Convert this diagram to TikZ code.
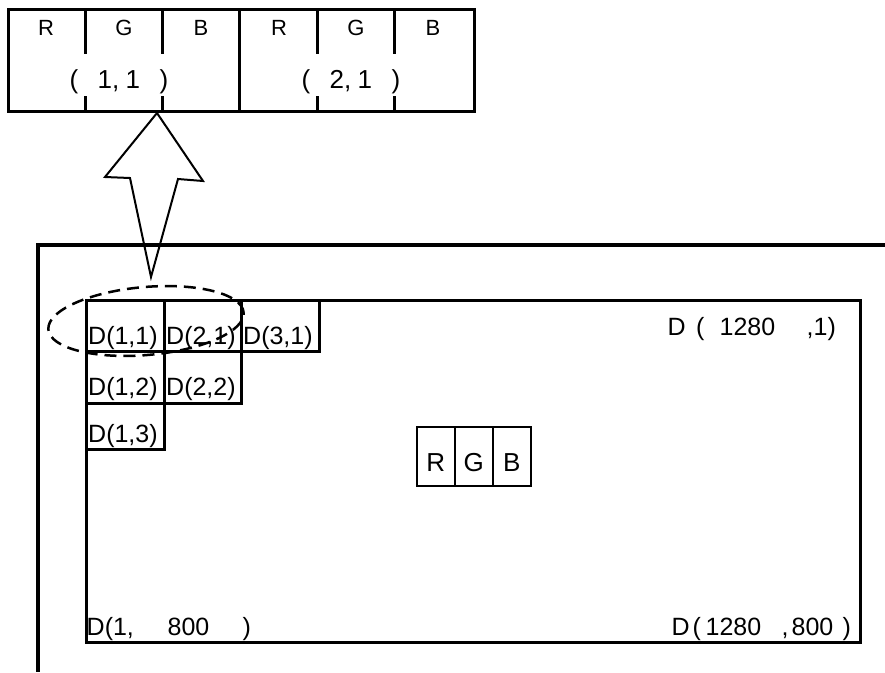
\documentclass[tikz,border=0pt]{standalone}
\usepackage{fontspec}
\setmainfont{Liberation Sans}
\usetikzlibrary{calc,shapes.geometric}
\newcommand\pieceat[2]{\makebox[0pt][l]{\hspace{#1}#2}}
\begin{document}
\begin{tikzpicture}[x=1pt,y=-1pt,
  box/.style={draw,inner sep=0pt,anchor=north west},
  cell/.style={box,line width=2.5pt},
  lab/.style={font=\fontsize{25}{25}\selectfont,inner sep=0pt,anchor=base west},
  toplab/.style={font=\fontsize{22}{22}\selectfont,inner sep=0pt,anchor=base},
  numlab/.style={font=\fontsize{26}{26}\selectfont,inner sep=0pt,anchor=base west},
  rgblab/.style={font=\fontsize{26}{26}\selectfont,inner sep=0pt,anchor=base},
]
\useasboundingbox (0,0) rectangle (885,672);

% ---- top pixel strip ----
\node[box,line width=3pt,minimum width=466pt,minimum height=102pt] (px) at (7,8) {};
\draw[line width=3pt] (239,8) -- (239,110);
\foreach \x in {85,162,317,394}{
  \draw[line width=3pt] (\x,8) -- (\x,54);
  \draw[line width=3pt] (\x,96) -- (\x,110);
}
\node[toplab] (r1) at (46,35) {R};
\node[toplab] (g1) at (124,35) {G};
\node[toplab] (b1) at (201,35) {B};
\node[toplab] (r2) at (279,35) {R};
\node[toplab] (g2) at (356,35) {G};
\node[toplab] (b2) at (433,35) {B};
\node[numlab] (p11) at (69,88)
  {\pieceat{0pt}{(}\pieceat{28pt}{1,}\pieceat{56pt}{1}\pieceat{90pt}{)}};
\node[numlab] (p21) at (301,88)
  {\pieceat{0pt}{(}\pieceat{28pt}{2,}\pieceat{56pt}{1}\pieceat{90pt}{)}};

% ---- outer frame (partially visible) ----
\coordinate (oTR) at (885,245);
\coordinate (oTL) at (38,245);
\coordinate (oBL) at (38,672);
\draw[line width=3.5pt] (oTR) -- (oTL) -- (oBL);

% ---- screen ----
\node[box,line width=2.5pt,minimum width=774pt,minimum height=342pt] (screen) at (85,299) {};

% ---- pixel cells ----
\node[cell,minimum width=78pt,minimum height=51pt] (c11) at (85,299) {};
\node[cell,minimum width=77pt,minimum height=51pt] (c21) at (163,299) {};
\node[cell,minimum width=78pt,minimum height=51pt] (c31) at (240,299) {};
\node[cell,minimum width=78pt,minimum height=52pt] (c12) at (85,350) {};
\node[cell,minimum width=77pt,minimum height=52pt] (c22) at (163,350) {};
\node[cell,minimum width=78pt,minimum height=46pt] (c13) at (85,402) {};

\node[lab] (t11) at ($(c11.south west)+(3,-8)$) {D(1,1)};
\node[lab] (t21) at ($(c21.south west)+(3,-8)$) {D(2,1)};
\node[lab] (t31) at ($(c31.south west)+(3,-8)$) {D(3,1)};
\node[lab] (t12) at ($(c12.south west)+(3,-9)$) {D(1,2)};
\node[lab] (t22) at ($(c22.south west)+(3,-9)$) {D(2,2)};
\node[lab] (t13) at ($(c13.south west)+(3,-8)$) {D(1,3)};

\node[lab] (tR1) at (667,335)
  {\pieceat{0pt}{D}\pieceat{28.5pt}{(}\pieceat{52pt}{1280}\pieceat{139pt}{,1)}};
\node[lab] (tLB) at (86,635)
  {\pieceat{0pt}{D(1,}\pieceat{81pt}{800}\pieceat{156pt}{)}};
\node[lab] (tRB) at (671,635)
  {\pieceat{0pt}{D}\pieceat{21pt}{(}\pieceat{34pt}{1280}\pieceat{110pt}{,}\pieceat{120pt}{800}\pieceat{171pt}{)}};

% ---- RGB sub-pixel box ----
\node[box,line width=1.5pt,minimum width=38pt,minimum height=59pt] (sr) at (416,426) {};
\node[box,line width=1.5pt,minimum width=38pt,minimum height=59pt] (sg) at (454,426) {};
\node[box,line width=1.5pt,minimum width=38pt,minimum height=59pt] (sb) at (492,426) {};
\node[rgblab] (lr) at ($(sr.south)+(0,-15)$) {R};
\node[rgblab] (lg) at ($(sg.south)+(0,-15)$) {G};
\node[rgblab] (lb) at ($(sb.south)+(0,-15)$) {B};

% ---- dashed selection ellipse ----
\node[ellipse,draw,dash pattern=on 12pt off 7pt,line width=2.5pt,
      minimum width=196pt,minimum height=68pt,inner sep=0pt,rotate=5] (sel) at (146,321) {};

% ---- block arrow ----
\draw[line width=2pt,line join=miter]
  (157,113) -- (203,181) -- (178,179) -- (151,277) -- (130,178) -- (105,177) -- cycle;
\end{tikzpicture}
\end{document}
